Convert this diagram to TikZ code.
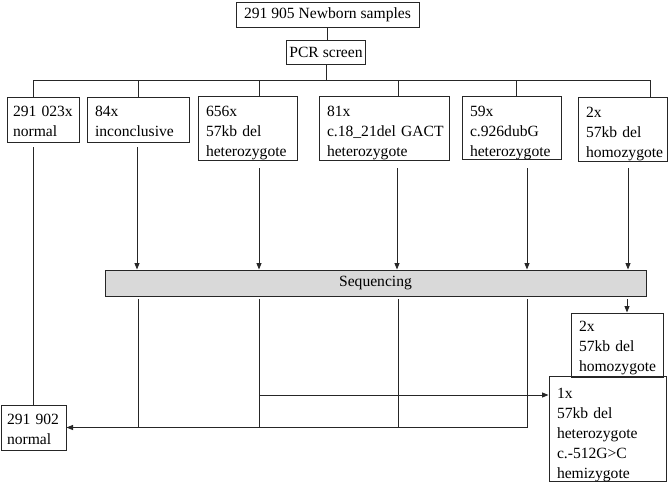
\documentclass[tikz,border=0pt]{standalone}
\usepackage{fontspec}
\setmainfont{Liberation Serif}
\usetikzlibrary{arrows.meta}
\definecolor{lc}{HTML}{262626}
\definecolor{seqfill}{HTML}{D9D9D9}
\newcommand\topgap[1]{\rule{0pt}{#1}}
\begin{document}
\begin{tikzpicture}[x=1pt,y=-1pt,
  box/.style={draw=lc, line width=1pt, inner xsep=0pt, inner ysep=0pt, align=left,
    font=\fontsize{15.6}{20}\selectfont},
  cbox/.style={box, align=center},
  conn/.style={draw=lc, line width=0.9pt},
  arr/.style={conn, -{Triangle[length=6.5pt,width=5pt]}}
]
\useasboundingbox[fill=white] (0,0) rectangle (672,482);

% top nodes
\node[cbox, minimum width=183pt, minimum height=25pt] (top) at (327.5,14.5) {291 905 Newborn samples};
\node[cbox, minimum width=79pt, minimum height=24pt] (pcr) at (326,52) {PCR screen};

% first row
\node[box, minimum width=72pt, minimum height=45pt, text width=60pt] (b1) at (43,119.5) {\topgap{14.5pt}291~023x\\normal};
\node[box, minimum width=102pt, minimum height=45pt, text width=86pt] (b2) at (138,119.5) {\topgap{14.5pt}84x\\inconclusive};
\node[box, minimum width=99pt, minimum height=63pt, text width=83pt] (b3) at (247.5,128.5) {\topgap{20pt}656x\\57kb del\\heterozygote};
\node[box, minimum width=130pt, minimum height=63pt, text width=114pt] (b4) at (384,128.5) {\topgap{20pt}81x\\c.18\_21del~GACT\\heterozygote};
\node[box, minimum width=99pt, minimum height=62pt, text width=83pt] (b5) at (511.5,128) {\topgap{20pt}59x\\c.926dubG\\heterozygote};
\node[box, minimum width=89pt, minimum height=64pt, text width=73pt] (b6) at (622.5,129) {\topgap{20pt}2x\\57kb del\\homozygote};

% sequencing
\node[cbox, fill=seqfill, minimum width=541pt, minimum height=26pt] (seq) at (375.5,283) {Sequencing};

% results
\node[box, minimum width=92pt, minimum height=64pt, text width=76pt] (b7) at (617,345) {\topgap{16.5pt}2x\\57kb del\\homozygote};
\node[box, minimum width=117pt, minimum height=98pt, text width=101pt] (b8) at (607.5,429) {\topgap{22pt}1x\\57kb del\\heterozygote\\c.-512G>C\\hemizygote};
\node[box, minimum width=65pt, minimum height=45pt, text width=53pt] (b9) at (33.5,427.5) {\topgap{14.5pt}291~902\\normal};

% top connectors
\draw[conn] (top.south) -- (top.south |- pcr.north);
\coordinate (busL) at (33,80);
\coordinate (busR) at (650,80);
\draw[conn] (busL) -- (busR);
\draw[conn] (pcr.south) -- (pcr.south |- busL);
\coordinate (d1) at (33,80);
\coordinate (d2) at (138,80);
\coordinate (d3) at (259,80);
\coordinate (d4) at (398,80);
\coordinate (d5) at (516,80);
\coordinate (d6) at (650,80);
\draw[conn] (d1) -- (d1 |- b1.north);
\draw[conn] (d2) -- (d2 |- b2.north);
\draw[conn] (d3) -- (d3 |- b3.north);
\draw[conn] (d4) -- (d4 |- b4.north);
\draw[conn] (d5) -- (d5 |- b5.north);
\draw[conn] (d6) -- (d6 |- b6.north);

% lines below first row
\coordinate (u1) at (33,147);
\coordinate (u2) at (137,147);
\coordinate (u3) at (259,168);
\coordinate (u4) at (397,168);
\coordinate (u5) at (527,168);
\coordinate (u6) at (628,168);
\draw[conn] (u1) -- (u1 |- b9.north);
\draw[arr] (u2) -- (u2 |- seq.north);
\draw[arr] (u3) -- (u3 |- seq.north);
\draw[arr] (u4) -- (u4 |- seq.north);
\draw[arr] (u5) -- (u5 |- seq.north);
\draw[arr] (u6) -- (u6 |- seq.north);

% lines below sequencing
\coordinate (s2) at (138,299);
\coordinate (s3) at (259,299);
\coordinate (s4) at (398,299);
\coordinate (s5) at (527,299);
\coordinate (s6) at (627,299);
\draw[conn] (s2) -- (s2 |- b9.east);
\draw[conn] (s3) -- (s3 |- b9.east);
\draw[conn] (s4) -- (s4 |- b9.east);
\draw[conn] (s5) -- (s5 |- b9.east);
\draw[arr] (s5 |- b9.east) -- (b9.east);
\draw[arr] (s6) -- (s6 |- b7.north);
\coordinate (h) at (259,395);
\draw[arr] (h) -- (h -| b8.west);
\end{tikzpicture}
\end{document}
